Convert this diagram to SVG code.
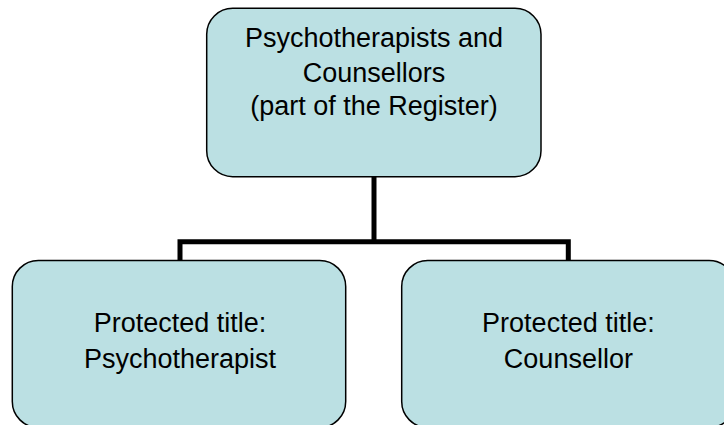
<svg xmlns="http://www.w3.org/2000/svg" width="724" height="425" viewBox="0 0 724 425">
<style>
.box{fill:#BBE0E3;stroke:#000;stroke-width:1.5}
.lbl{font-family:"Liberation Sans",Arial,sans-serif;font-size:27px;fill:#000;text-anchor:middle}
.conn{fill:none;stroke:#000;stroke-width:5;stroke-linejoin:miter;stroke-linecap:butt}
</style>
<rect width="724" height="425" fill="#fff"/>
<g id="connectors">
<path class="conn" d="M374,176.7 V241.7"/>
<path class="conn" d="M180,260.5 V241.7 H568.3 V260.5"/>
</g>
<g id="node-top">
<rect class="box" x="206.7" y="8.3" width="334.3" height="168.4" rx="26" ry="26"/>
<text class="lbl" x="374" y="47">Psychotherapists and</text>
<text class="lbl" x="374" y="81.5">Counsellors</text>
<text class="lbl" x="374" y="114.5">(part of the Register)</text>
</g>
<g id="node-psychotherapist">
<rect class="box" x="12.3" y="260.5" width="333.4" height="167" rx="26" ry="26"/>
<text class="lbl" x="180" y="331.7">Protected title:</text>
<text class="lbl" x="180" y="368.3">Psychotherapist</text>
</g>
<g id="node-counsellor">
<rect class="box" x="401.7" y="260.5" width="333.4" height="167" rx="26" ry="26"/>
<text class="lbl" x="568.4" y="331.7">Protected title:</text>
<text class="lbl" x="568.4" y="367.5">Counsellor</text>
</g>
</svg>
